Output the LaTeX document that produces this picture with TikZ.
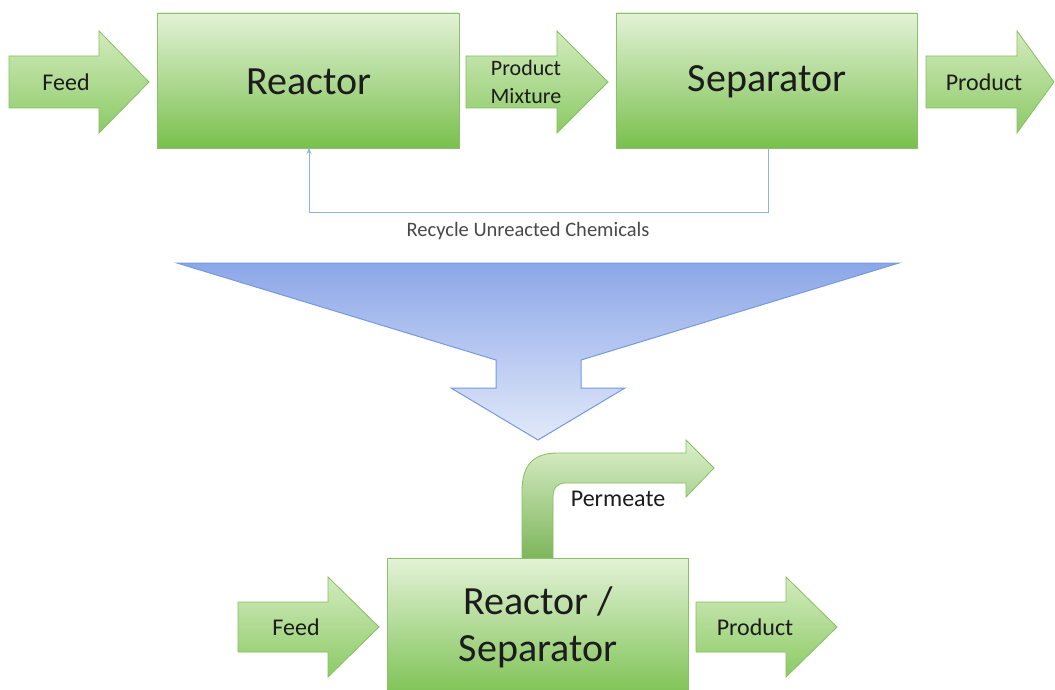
\documentclass[tikz,border=0pt]{standalone}
\usepackage{fontspec}
\setmainfont{Carlito}
\usetikzlibrary{arrows.meta}

\definecolor{boxtop}{HTML}{E3F2D7}
\definecolor{boxbot}{HTML}{79C04E}
\definecolor{boxedge}{HTML}{8DBF6A}
\definecolor{arrtop}{HTML}{D2EBBD}
\definecolor{arrbot}{HTML}{8CCA66}
\definecolor{arredge}{HTML}{86C060}
\definecolor{bluetop}{HTML}{8CA7E8}
\definecolor{bluebot}{HTML}{E2E9F9}
\definecolor{blueedge}{HTML}{7499E2}
\definecolor{recycle}{HTML}{8DB2E6}
\definecolor{ink}{HTML}{1C1C1C}

\tikzset{
  unitbox/.style={draw=boxedge, line width=0.8pt, top color=boxtop, bottom color=boxbot},
  flowarrow/.style={draw=arredge, line width=0.8pt, top color=arrtop, bottom color=arrbot},
  bigtext/.style={text=ink, font=\fontsize{40}{47}\selectfont, align=center, inner sep=0pt},
  arrtext/.style={text=ink, font=\fontsize{24}{28}\selectfont, align=center, inner sep=0pt},
  smalltext/.style={text=ink!80, font=\fontsize{20.5}{24}\selectfont, inner sep=0pt},
}

% block arrow: tail x, head start x, tip x, centre y, half body, half head
\newcommand\blockarrow[6]{%
  \path[flowarrow] (#1,#4-#5) -- (#2,#4-#5) -- (#2,#4-#6) -- (#3,#4)
    -- (#2,#4+#6) -- (#2,#4+#5) -- (#1,#4+#5) -- cycle;}

\begin{document}
\begin{tikzpicture}[x=1pt, y=-1pt]
\useasboundingbox[fill=white] (0,0) rectangle (1055,690);

% ---- conventional process: reactor followed by separator ----
\blockarrow{9}{99}{149}{82}{26}{51}
\node[arrtext] (feedA) at (66,82) {Feed};

\path[unitbox] (157,13) rectangle (459,148);
\coordinate (reacS) at (308,148);
\node[bigtext] (reactor) at (309,82) {Reactor};

\blockarrow{466}{557}{608}{82}{26}{51}
\node[arrtext, font=\fontsize{22}{28}\selectfont] (mixture) at (526,82) {Product\\Mixture};

\path[unitbox] (616,13) rectangle (917,148);
\coordinate (sepS) at (768,148);
\node[bigtext] (separator) at (767,82) {Separator};

\blockarrow{926}{1017}{1054}{82}{26}{51}
\node[arrtext] (productA) at (984,82) {Product};

% recycle loop from separator back to reactor
\coordinate (loopR) at (768,212);
\coordinate (loopL) at (309,212);
\draw[recycle, line width=0.9pt, -{Stealth[length=6pt,width=5pt]}]
  (sepS) -- (loopR) -- (loopL) -- (reacS -| loopL);
\node[smalltext] (recyc) at (528,231) {Recycle Unreacted Chemicals};

% ---- transition arrow ----
\path[draw=blueedge, line width=1pt, top color=bluetop, bottom color=bluebot]
  (177,263) -- (899,263) -- (581,360) -- (581,388) -- (625,388) -- (538,440)
  -- (451,388) -- (496,388) -- (496,360) -- cycle;

% ---- integrated membrane reactor ----
\blockarrow{238}{328}{379}{627}{25}{50}
\node[arrtext] (feedB) at (296,627) {Feed};

\path[unitbox] (387,558) rectangle (688,702);
\node[bigtext] (memb) at (538,627) {Reactor /\\Separator};

\blockarrow{696}{786}{837}{627}{25}{50}
\node[arrtext] (productB) at (755,627) {Product};

% permeate leaving through the top of the unit
\path[flowarrow, top color=arrtop!80!white, bottom color=arrbot!90!black]
  (522,558) -- (522,492) .. controls (522,466) and (532,453) .. (558,453)
  -- (686,453) -- (686,440) -- (714,468) -- (686,497) -- (686,483)
  -- (566,483) .. controls (557,483) and (553,488) .. (553,497) -- (553,558) -- cycle;
\node[arrtext] (perm) at (618,499) {Permeate};
\end{tikzpicture}
\end{document}
